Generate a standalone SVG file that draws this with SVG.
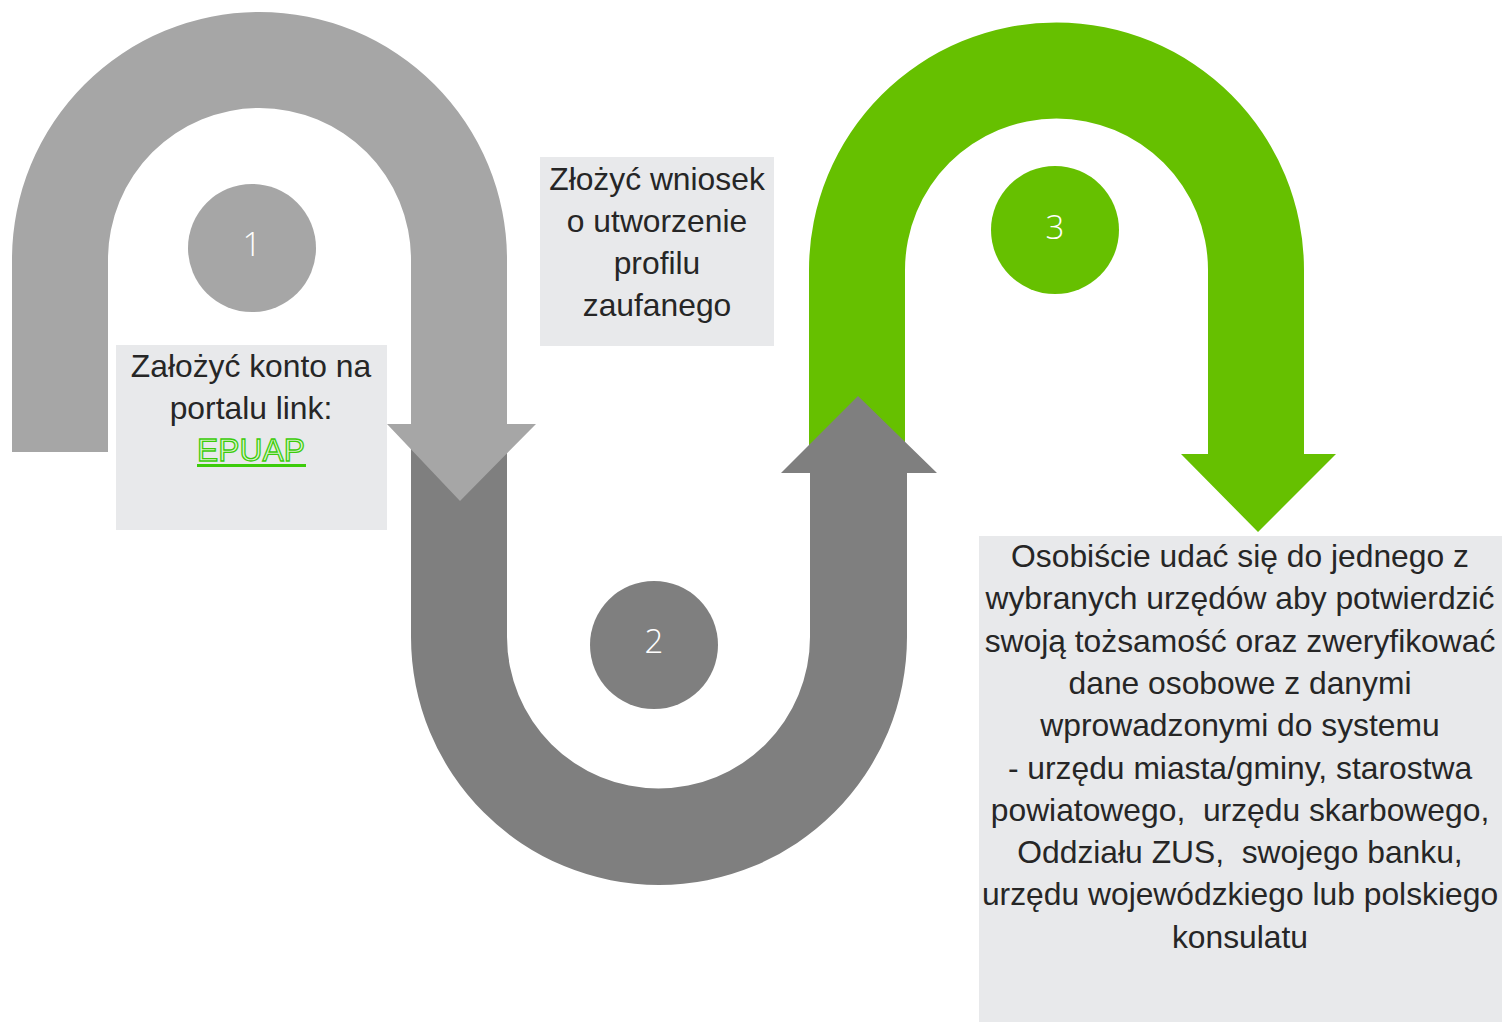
<svg xmlns="http://www.w3.org/2000/svg" width="1502" height="1022" viewBox="0 0 1502 1022">
  <style>
    .box { fill: #e8e9eb; }
    .txt { font-family: "Liberation Sans", Arial, sans-serif; font-size: 31.8px; fill: #262626; text-anchor: middle; white-space: pre; }
    .num { font-family: "Open Sans", "Noto Sans", sans-serif; font-size: 33px; font-weight: 300; fill: #ffffff; text-anchor: middle; }
    .light { fill: #a6a6a6; }
    .dark { fill: #7f7f7f; }
    .green { fill: #66c000; }
    .link { font-family: "Liberation Sans", Arial, sans-serif; font-size: 31.8px; text-anchor: middle; fill: #dff5d2; stroke: #3ccc0a; stroke-width: 1.3; }
  </style>
  <rect width="1502" height="1022" fill="#ffffff"/>
  <g id="connectors">
    <path class="green" d="M 809 465 L 809 270 A 247.5 247.5 0 0 1 1304 270 L 1304 454 L 1336 454 L 1258 532 L 1181 454 L 1208 454 L 1208 270 A 151.5 151.5 0 0 0 905 270 L 905 465 Z"/>
    <path class="dark" d="M 411 440 L 411 637 A 248 248 0 0 0 907 637 L 907 473 L 937 473 L 858 396 L 781 473 L 810 473 L 810 637 A 151.5 151.5 0 0 1 507 637 L 507 440 Z"/>
    <path class="light" d="M 12 452 L 12 259.5 A 247.5 247.5 0 0 1 507 259.5 L 507 424 L 536 424 L 460 501 L 387 424 L 411 424 L 411 259.5 A 151.5 151.5 0 0 0 108 259.5 L 108 452 Z"/>
  </g>
  <g id="step1">
    <circle class="light" cx="252" cy="248" r="64"/>
    <text class="num" x="252" y="256">1</text>
  </g>
  <g id="step2">
    <circle class="dark" cx="654" cy="645" r="64"/>
    <text class="num" x="654" y="653">2</text>
  </g>
  <g id="step3">
    <circle class="green" cx="1055" cy="230" r="64"/>
    <text class="num" x="1055" y="239">3</text>
  </g>
  <g id="box1">
    <rect class="box" x="116" y="345" width="271" height="185"/>
    <text class="txt" x="251" y="377">Założyć konto na</text>
    <text class="txt" x="251" y="419">portalu link:</text>
    <text class="link" x="251" y="461">EPUAP</text>
    <rect x="197" y="464" width="109" height="3" fill="#3ccc0a"/>
  </g>
  <g id="box2">
    <rect class="box" x="540" y="157" width="234" height="189"/>
    <text class="txt" x="657" y="190">Złożyć wniosek</text>
    <text class="txt" x="657" y="232">o utworzenie</text>
    <text class="txt" x="657" y="274">profilu</text>
    <text class="txt" x="657" y="316">zaufanego</text>
  </g>
  <g id="box3">
    <rect class="box" x="979" y="536" width="523" height="486"/>
    <text class="txt" x="1240" y="567">Osobiście udać się do jednego z</text>
    <text class="txt" x="1240" y="609.3">wybranych urzędów aby potwierdzić</text>
    <text class="txt" x="1240" y="651.6">swoją tożsamość oraz zweryfikować</text>
    <text class="txt" x="1240" y="693.9">dane osobowe z danymi</text>
    <text class="txt" x="1240" y="736.2">wprowadzonymi do systemu</text>
    <text class="txt" x="1240" y="778.5">- urzędu miasta/gminy, starostwa</text>
    <text class="txt" x="1240" y="820.8">powiatowego,&#160; urzędu skarbowego,</text>
    <text class="txt" x="1240" y="863.1">Oddziału ZUS,&#160; swojego banku,</text>
    <text class="txt" x="1240" y="905.4">urzędu wojewódzkiego lub polskiego</text>
    <text class="txt" x="1240" y="947.7">konsulatu</text>
  </g>
</svg>
